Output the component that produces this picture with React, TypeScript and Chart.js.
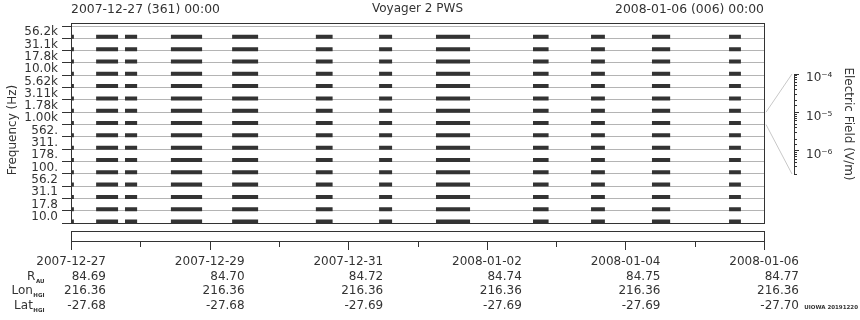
import React, { useEffect, useRef } from 'react';
import { Chart, registerables } from 'chart.js';

Chart.register(...registerables);

const FONT = 'DejaVu Sans';
const INK = '#333333';
const GRID = '#b4b4b4';
const LINK = '#c8c8c8';

// ---------- data ----------
const TITLE = 'Voyager 2 PWS';
const HEADER_LEFT = '2007-12-27 (361) 00:00';
const HEADER_RIGHT = '2008-01-06 (006) 00:00';
const Y_TITLE = 'Frequency (Hz)';
const FIELD_TITLE = 'Electric Field (V/m)';
const CREDIT = 'UIOWA 20191220';

// frequency channels, top to bottom
const CHANNELS = ['56.2k', '31.1k', '17.8k', '10.0k', '5.62k', '3.11k', '1.78k', '1.00k',
  '562.', '311.', '178.', '100.', '56.2', '31.1', '17.8', '10.0'];

// data coverage segments, hours since 2007-12-27 00:00
const SEG_START_H = [0, 8.7, 18.7, 34.6, 55.8, 84.8, 106.7, 126.4, 160.0, 180.1, 201.2, 227.9];
const SEG_END_H = [1.0, 16.3, 22.9, 45.4, 64.8, 90.6, 111.2, 138.2, 165.4, 184.9, 207.5, 232.0];

const SPAN_H = 240;
const MAJOR_H = 48;
const MINOR_H = 24;

const TICK_DATES = ['2007-12-27', '2007-12-29', '2007-12-31', '2008-01-02', '2008-01-04', '2008-01-06'];
const R_AU = ['84.69', '84.70', '84.72', '84.74', '84.75', '84.77'];
const LON_HGI = ['216.36', '216.36', '216.36', '216.36', '216.36', '216.36'];
const LAT_HGI = ['-27.68', '-27.68', '-27.69', '-27.69', '-27.69', '-27.70'];
const ROW_NAMES = [['R', 'AU'], ['Lon', 'HGI'], ['Lat', 'HGI']];

const FIELD_MIN = 2.5e-7;
const FIELD_MAX = 1e-4;
const FIELD_CHANNEL = '1.00k';

// ---------- layout constants ----------
const W = 860;
const H = 320;
const BAR_LIFT = 0.12; // fraction of a channel row
const X_LABEL_PAD = 24;
const CB_LEFT = 760;
const CB_W = 100;
const CB_AXIS_X = 794;
const CB_TOP = 74;
const CB_BOTTOM = 174;

const SUP: Record<string, string> = { '-': '\u207B', '0': '\u2070', '1': '\u00B9', '2': '\u00B2', '3': '\u00B3', '4': '\u2074', '5': '\u2075', '6': '\u2076', '7': '\u2077', '8': '\u2078', '9': '\u2079' };
const sup = (s: string) => s.split('').map((c) => SUP[c] ?? c).join('');
const isDecade = (v: number) => Math.abs(Math.log10(v) - Math.round(Math.log10(v))) < 1e-6;

const decorPlugin = {
  id: 'pwsDecor',
  afterDraw(chart: any) {
    const { ctx, chartArea: a } = chart;
    const xs = chart.scales.x;
    const ys = chart.scales.y;
    ctx.save();
    // frame
    ctx.strokeStyle = INK;
    ctx.lineWidth = 1;
    ctx.strokeRect(a.left + 0.5, a.top - 2.5, a.right - a.left, a.bottom - a.top + 3);
    // time strip
    const sTop = a.bottom + 8.5;
    const sBot = a.bottom + 18.5;
    ctx.strokeRect(a.left + 0.5, sTop, a.right - a.left, 10);
    ctx.beginPath();
    for (let h = 0; h <= SPAN_H; h += MINOR_H) {
      const px = Math.round(xs.getPixelForValue(h)) + 0.5;
      ctx.moveTo(px, sBot);
      ctx.lineTo(px, sBot + (h % MAJOR_H === 0 ? 8.5 : 5.5));
    }
    ctx.stroke();

    // connectors to the field scale
    const ci = CHANNELS.indexOf(FIELD_CHANNEL);
    const c = ys.getPixelForValue(ci);
    const half = (a.bottom - a.top) / CHANNELS.length / 2;
    ctx.strokeStyle = LINK;
    ctx.beginPath();
    ctx.moveTo(a.right + 2, c - half);
    ctx.lineTo(CB_AXIS_X - 2, CB_TOP);
    ctx.moveTo(a.right + 2, c + half);
    ctx.lineTo(CB_AXIS_X - 2, CB_BOTTOM);
    ctx.stroke();

    // header
    ctx.fillStyle = INK;
    ctx.font = `12.4px ${FONT}`;
    ctx.textBaseline = 'alphabetic';
    ctx.textAlign = 'left';
    ctx.fillText(HEADER_LEFT, a.left, 12.7);
    ctx.textAlign = 'right';
    ctx.fillText(HEADER_RIGHT, a.right, 12.7);

    // y title
    ctx.save();
    ctx.translate(12.5, 130);
    ctx.rotate(-Math.PI / 2);
    ctx.font = `12px ${FONT}`;
    ctx.textAlign = 'center';
    ctx.textBaseline = 'middle';
    ctx.fillText(Y_TITLE, 0, 0);
    ctx.restore();

    // ephemeris row names, aligned with the axis label lines
    let firstMid = a.bottom + 8 + X_LABEL_PAD + 7.2;
    let lh = 14.4;
    try {
      const items = xs.getLabelItems();
      const it = items && items[0];
      const tr = it && ((it.options && it.options.translation) || it.translation);
      if (it && tr) {
        firstMid = tr[1] + (it.textOffset || 0);
        if (it.font && it.font.lineHeight) lh = it.font.lineHeight;
      }
    } catch (e) {
      // keep defaults
    }
    ROW_NAMES.forEach(([main, sub], k) => {
      const mid = firstMid + lh * (k + 1);
      ctx.textBaseline = 'middle';
      ctx.font = `bold 5.5px ${FONT}`;
      const sw = ctx.measureText(sub).width;
      ctx.textAlign = 'left';
      ctx.fillText(sub, 44.5 - sw, mid + 5);
      ctx.font = `12px ${FONT}`;
      ctx.textAlign = 'right';
      ctx.fillText(main, 44.5 - sw - 0.5, mid);
    });

    // credit
    ctx.textBaseline = 'alphabetic';
    ctx.font = `bold 5.5px ${FONT}`;
    ctx.textAlign = 'right';
    ctx.fillText(CREDIT, 858, 308.5);
    ctx.restore();
  },
};

export default function App() {
  const mainRef = useRef<HTMLCanvasElement>(null);
  const cbRef = useRef<HTMLCanvasElement>(null);

  useEffect(() => {
    Chart.defaults.font.family = FONT;
    Chart.defaults.font.size = 12;
    Chart.defaults.color = INK;

    const datasets = CHANNELS.map((ch, i) => {
      const yv = CHANNELS.length - 1 - i + BAR_LIFT;
      const data: any[] = [];
      SEG_START_H.forEach((s, k) => {
        data.push({ x: s, y: yv }, { x: SEG_END_H[k], y: yv }, { x: SEG_END_H[k], y: null });
      });
      return {
        label: ch,
        data,
        showLine: true,
        borderColor: INK,
        backgroundColor: INK,
        borderWidth: 4,
        borderCapStyle: 'butt',
        pointRadius: 0,
        spanGaps: false,
        xAxisID: 'x',
        yAxisID: 'yv',
      };
    });

    const font = { family: FONT, size: 12 };

    const main = new Chart(mainRef.current as HTMLCanvasElement, {
      type: 'scatter',
      data: { datasets: datasets as any },
      options: {
        responsive: false,
        animation: false,
        events: [],
        layout: { padding: { left: 0, right: 96, top: 0, bottom: 0 } },
        plugins: {
          legend: { display: false },
          tooltip: { enabled: false },
          title: {
            display: true,
            text: TITLE,
            fullSize: false,
            color: INK,
            font: { family: FONT, size: 12, weight: 'normal' },
            padding: { top: 2, bottom: 9.6 },
          },
        },
        scales: {
          x: {
            type: 'linear',
            min: 0,
            max: SPAN_H,
            afterFit: (s: any) => {
              s.height = H - 223;
              s.paddingLeft = 0;
              s.paddingRight = 0;
            },
            grid: { display: false, drawTicks: true, tickLength: 8 },
            border: { display: true, color: INK },
            ticks: {
              stepSize: MAJOR_H,
              autoSkip: false,
              maxRotation: 0,
              align: 'end',
              labelOffset: 35,
              padding: X_LABEL_PAD,
              color: INK,
              font,
              callback: (v: any) => {
                const i = Math.round(Number(v) / MAJOR_H);
                return [TICK_DATES[i], R_AU[i], LON_HGI[i], LAT_HGI[i]];
              },
            },
          },
          y: {
            type: 'category',
            labels: CHANNELS,
            offset: true,
            afterFit: (s: any) => {
              s.width = 71;
            },
            grid: { offset: true, color: GRID, tickColor: INK, tickLength: 9 },
            border: { display: true, color: INK },
            ticks: { autoSkip: false, padding: 4, color: INK, font },
          },
          yv: {
            type: 'linear',
            display: false,
            min: 0,
            max: CHANNELS.length,
          },
        },
      } as any,
      plugins: [decorPlugin],
    });

    const logAxis = {
      type: 'logarithmic',
      position: 'right',
      min: FIELD_MIN,
      max: FIELD_MAX,
    };

    const cb = new Chart(cbRef.current as HTMLCanvasElement, {
      type: 'scatter',
      data: { datasets: [] },
      options: {
        responsive: false,
        animation: false,
        events: [],
        layout: { padding: { left: CB_AXIS_X - CB_LEFT - 1, right: 0, top: CB_TOP, bottom: H - CB_BOTTOM } },
        plugins: { legend: { display: false }, tooltip: { enabled: false } },
        scales: {
          x: { type: 'linear', display: false },
          y: { type: 'linear', display: false },
          fMinor: {
            ...logAxis,
            weight: 0,
            afterFit: (s: any) => {
              s.width = 0;
              s.paddingTop = 0;
              s.paddingBottom = 0;
            },
            grid: { drawOnChartArea: false, tickLength: 3, tickColor: INK },
            border: { display: true, color: INK },
            ticks: { display: false },
          },
          fMajor: {
            ...logAxis,
            weight: 1,
            afterBuildTicks: (s: any) => {
              s.ticks = s.ticks.filter((t: any) => isDecade(t.value));
            },
            afterFit: (s: any) => {
              s.width = CB_W - (CB_AXIS_X - CB_LEFT);
              s.paddingTop = 0;
              s.paddingBottom = 0;
            },
            grid: { drawOnChartArea: false, tickLength: 5, tickColor: INK },
            border: { display: false },
            ticks: {
              padding: 7,
              labelOffset: 4,
              color: INK,
              font,
              autoSkip: false,
              callback: (v: any) => '10' + sup(String(Math.round(Math.log10(Number(v))))),
            },
            title: {
              display: true,
              text: FIELD_TITLE,
              color: INK,
              font,
              padding: { top: 5, bottom: 0 },
            },
          },
        },
      } as any,
    });

    return () => {
      main.destroy();
      cb.destroy();
    };
  }, []);

  return (
    <div style={{ position: 'fixed', left: 0, top: 0, width: W, height: H, background: '#ffffff' }}>
      <canvas ref={mainRef} width={W} height={H} style={{ position: 'absolute', left: 0, top: 0 }} />
      <canvas ref={cbRef} width={CB_W} height={H} style={{ position: 'absolute', left: CB_LEFT, top: 0 }} />
    </div>
  );
}
